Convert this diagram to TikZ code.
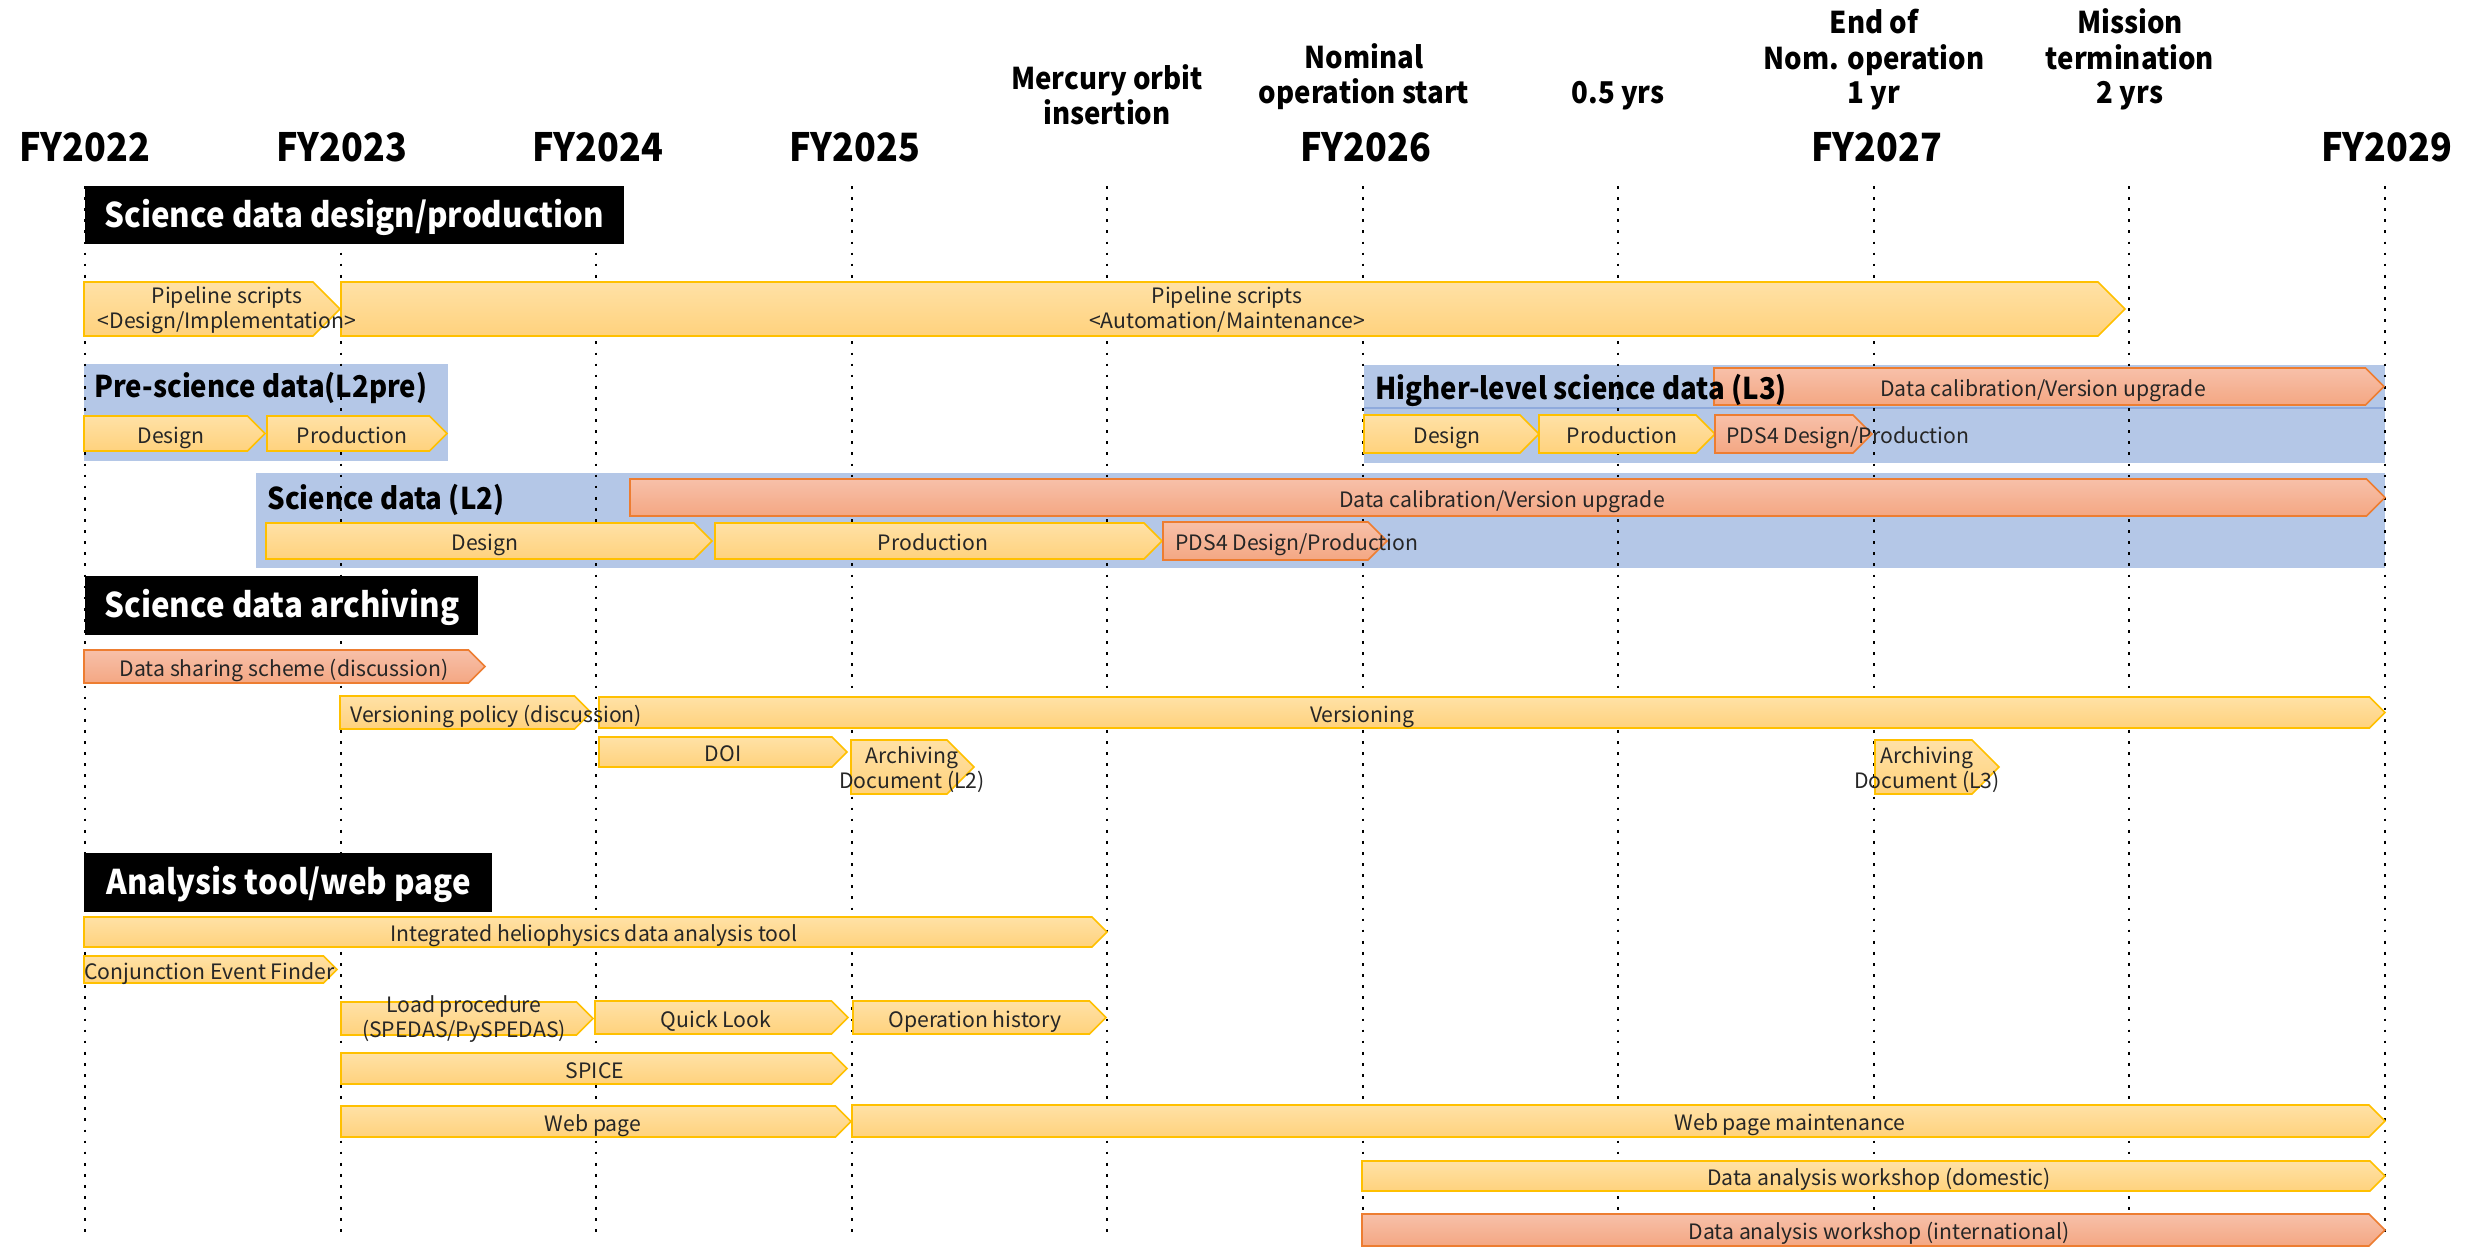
\documentclass[tikz,border=0pt]{standalone}
\usepackage{fontspec}
\setmainfont{Noto Sans CJK JP}[BoldFeatures={FakeStretch=0.92}]
\definecolor{ylwT}{HTML}{FFE1A6}
\definecolor{ylwB}{HTML}{FFD27D}
\definecolor{ylwD}{HTML}{FFC000}
\definecolor{orgT}{HTML}{F7C0A9}
\definecolor{orgB}{HTML}{F4A783}
\definecolor{orgD}{HTML}{ED7D31}
\definecolor{bluebox}{HTML}{B4C7E7}
\definecolor{blueline}{HTML}{8FAADC}
\definecolor{txt}{HTML}{262626}
\newcommand\gbar[5][]{\path[#1] (#2,#4) -- ({#3-(#5-#4)/2},#4) -- (#3,{(#4+#5)/2}) -- ({#3-(#5-#4)/2},#5) -- (#2,#5) -- cycle;}
\begin{document}
\begin{tikzpicture}[x=0.5pt,y=-0.5pt,
  grid/.style={line width=1.35pt, dash pattern=on 1.35pt off 4.2pt, black},
  ybar/.style={draw=ylwD, line width=0.8pt, top color=ylwT, bottom color=ylwB},
  obar/.style={draw=orgD, line width=0.8pt, top color=orgT, bottom color=orgB},
  yr/.style={font=\fontsize{19.5pt}{22pt}\selectfont\bfseries, inner sep=0, anchor=base},
  ev/.style={font=\fontsize{15pt}{17.5pt}\selectfont\bfseries, inner sep=0, anchor=base, align=center},
  sec/.style={font=\fontsize{17pt}{20pt}\selectfont\bfseries, text=white, inner sep=0, anchor=base west},
  ttl/.style={font=\fontsize{15pt}{18pt}\selectfont\bfseries, inner sep=0, anchor=base west},
  bt/.style={font=\fontsize{10.6pt}{12.5pt}\selectfont, text=txt, inner sep=0, anchor=base, align=center},
  bts/.style={bt, yshift=-1.2pt},
  btl/.style={bts, anchor=base west}]
\useasboundingbox (0,0) rectangle (2476,1247);
\fill[white] (0,0) rectangle (2476,1247);
% header
\node[yr] (fy22) at (85,161) {FY2022};
\node[yr] (fy23) at (342,161) {FY2023};
\node[yr] (fy24) at (598,161) {FY2024};
\node[yr] (fy25) at (855,161) {FY2025};
\node[yr] (fy26) at (1366,161) {FY2026};
\node[yr] (fy27) at (1877,161) {FY2027};
\node[yr] (fy29) at (2387,161) {FY2029};
\node[ev] (moi) at (1107,125) {Mercury orbit\\insertion};
\node[ev] (nos) at (1364,104) {Nominal\\operation start};
\node[ev] (half) at (1618,104) {0.5 yrs};
\node[ev] (eno) at (1874,104) {End of\\Nom. operation\\1 yr};
\node[ev] (mt) at (2130,104) {Mission\\termination\\2 yrs};
% blue boxes
\fill[bluebox] (84,364) rectangle (448,461);
\fill[bluebox] (256,473) rectangle (2385,568);
\fill[bluebox] (1364,365) rectangle (2385,463);
\draw[blueline, line width=0.6pt] (1364,408) -- (2385,408);
% gridlines
\foreach \x in {85,341,596,852,1107,1363,1618,1874,2129,2385}
  \draw[grid] (\x,186) -- (\x,1240);
% section headers
\fill[black] (85,186) rectangle (624,244);
\fill[black] (85,576) rectangle (478,635);
\fill[black] (84,853) rectangle (492,912);
\node[sec] (s1) at (104,227) {Science data design/production};
\node[sec] (s2) at (104,617) {Science data archiving};
\node[sec] (s3) at (106,894) {Analysis tool/web page};
% bars: design/production
\gbar[ybar]{84}{340}{282}{336}
\gbar[ybar]{341}{2125}{282}{336}
\gbar[ybar]{84}{265}{416}{451}
\gbar[ybar]{267}{447}{416}{451}
\gbar[obar]{630}{2385}{479}{516}
\gbar[ybar]{266}{712}{523}{559}
\gbar[ybar]{715}{1162}{523}{559}
\gbar[obar]{1163}{1387}{522}{560}
\gbar[obar]{1714}{2384}{368}{405}
\gbar[ybar]{1364}{1539}{415}{453}
\gbar[ybar]{1539}{1715}{415}{453}
\gbar[obar]{1715}{1872}{415}{453}
% archiving
\gbar[obar]{84}{485}{650}{683}
\gbar[ybar]{340}{591}{696}{729}
\gbar[ybar]{599}{2385}{697}{728}
\gbar[ybar]{599}{847}{737}{767}
\gbar[ybar]{851}{974}{740}{794}
\gbar[ybar]{1875}{1999}{740}{794}
% analysis
\gbar[ybar]{84}{1107}{917}{947}
\gbar[ybar]{84}{337}{956}{983}
\gbar[ybar]{341}{593}{1002}{1035}
\gbar[ybar]{595}{848}{1001}{1034}
\gbar[ybar]{853}{1106}{1001}{1034}
\gbar[ybar]{341}{847}{1053}{1084}
\gbar[ybar]{341}{851}{1106}{1137}
\gbar[ybar]{852}{2385}{1105}{1137}
\gbar[ybar]{1362}{2385}{1161}{1191}
\gbar[obar]{1362}{2385}{1214}{1246}
% box titles (over bars)
\node[ttl] (t1) at (94,397) {Pre-science data(L2pre)};
\node[ttl] (t2) at (267,509) {Science data (L2)};
\node[ttl] (t3) at (1375,399) {Higher-level science data (L3)};
% bar texts
\node[bt] (p1) at (227,328) {Pipeline scripts\\<Design/Implementation>};
\node[bt] (p2) at (1227,328) {Pipeline scripts\\<Automation/Maintenance>};
\node[bts] (pd) at (171,441) {Design};
\node[bts] (pp) at (352,441) {Production};
\node[bts] (l2c) at (1502,505) {Data calibration/Version upgrade};
\node[bts] (l2d) at (485,548.5) {Design};
\node[bts] (l2p) at (933,548.5) {Production};
\node[btl] (l2s) at (1175,548.5) {PDS4 Design/Production};
\node[bts] (l3c) at (2043,394) {Data calibration/Version upgrade};
\node[bts] (l3d) at (1447,441.5) {Design};
\node[bts] (l3p) at (1622,441.5) {Production};
\node[btl] (l3s) at (1726,441.5) {PDS4 Design/Production};
\node[bts] (dss) at (284,674) {Data sharing scheme (discussion)};
\node[btl] (vp) at (350,720) {Versioning policy (discussion)};
\node[bts] (ver) at (1362,720) {Versioning};
\node[bts] (doi) at (723,759.5) {DOI};
\node[bt] (ad2) at (912,788) {Archiving\\Document (L2)};
\node[bt] (ad3) at (1927,788) {Archiving\\Document (L3)};
\node[bts] (iht) at (594,939.5) {Integrated heliophysics data analysis tool};
\node[btl] (cef) at (84,977) {Conjunction Event Finder};
\node[bt] (lp) at (464,1037.5) {Load procedure\\(SPEDAS/PySPEDAS)};
\node[bts] (ql) at (716,1025) {Quick Look};
\node[bts] (oh) at (975,1025) {Operation history};
\node[bts] (sp) at (595,1076) {SPICE};
\node[bts] (wp) at (593,1129) {Web page};
\node[bts] (wpm) at (1790,1128.5) {Web page maintenance};
\node[bts] (daw) at (1879,1183.5) {Data analysis workshop (domestic)};
\node[bts] (dai) at (1879,1237.5) {Data analysis workshop (international)};
\end{tikzpicture}
\end{document}
